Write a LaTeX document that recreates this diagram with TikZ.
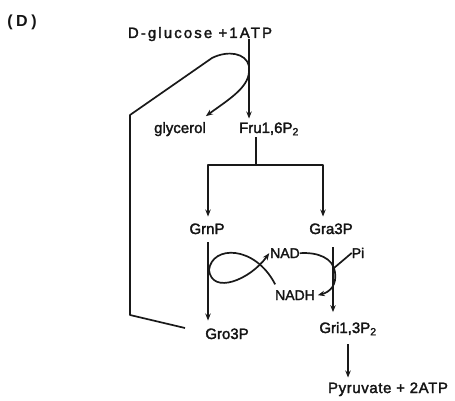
\documentclass[tikz,border=0pt]{standalone}
\usepackage{fontspec}
\setmainfont{Liberation Sans}
\newfontfamily\lblfont{Liberation Sans}[FakeBold=2]
\usetikzlibrary{arrows.meta}
\begin{document}
\begin{tikzpicture}[x=1pt,y=-1pt,
  lbl/.style={inner sep=0pt, outer sep=0pt, anchor=base, text=black!92, font=\lblfont\fontsize{15}{17}\selectfont},
  sml/.style={lbl, font=\lblfont\fontsize{14}{16}\selectfont},
  ln/.style={line width=1.7pt, draw=black!90, line join=round},
  arr/.style={ln, -{Stealth[length=7pt,width=5.5pt]}}]
\useasboundingbox (0,0) rectangle (455,401);
% labels
\node[lbl, font=\fontsize{16}{18}\selectfont\bfseries\addfontfeatures{LetterSpace=22}] (D) at (22,27) {(D)};
\node[lbl, font=\lblfont\fontsize{15}{17}\selectfont\addfontfeatures{LetterSpace=14}] (glc) at (200,38) {D-glucose +1ATP};
\node[lbl] (gly) at (180,133) {glycerol};
\node[lbl] (fru) at (269,133) {Fru1,6P\textsubscript{2}};
\node[lbl] (grn) at (207,234) {GrnP};
\node[lbl] (gra) at (331,234) {Gra3P};
\node[lbl] (gro) at (227,339) {Gro3P};
\node[lbl] (gri) at (348,333) {Gri1,3P\textsubscript{2}};
\node[lbl, font=\lblfont\fontsize{15}{17}\selectfont\addfontfeatures{LetterSpace=4}] (pyr) at (388,393) {Pyruvate + 2ATP};
\node[sml] (nad) at (285,258) {NAD};
\node[sml] (nadh) at (295,300) {NADH};
\node[sml] (pi) at (358,258) {Pi};
% columns and junction points
\coordinate (xm) at (249,0);
\coordinate (xf) at (256,0);
\coordinate (xL) at (208,0);
\coordinate (xR) at (323,0);
\coordinate (xG) at (333,0);
\coordinate (xP) at (348,0);
\coordinate (br) at (256,165);
\coordinate (lp) at (209,270);
\coordinate (pj) at (334,268);
\coordinate (loopend) at (185,328);
% main line glucose -> Fru1,6P2
\draw[arr] ([yshift=-1pt]glc.base -| xm) -- ([yshift=4pt]fru.north -| xm);
% branch to glycerol
\draw[arr] (249,72) .. controls (248,88) and (228,100) .. ([yshift=6pt]gly.north east);
% feedback loop
\draw[ln] (249,66) .. controls (246,53) and (228,50) .. (212,58) -- (130,115) -- (130,315) -- (loopend);
% Fru1,6P2 split
\draw[ln] ([yshift=-2pt]fru.south -| xf) -- (br);
\draw[arr] (br) -| ([yshift=7pt]grn.north -| xL);
\draw[arr] (br) -| ([yshift=7pt]gra.north -| xR);
% lower reactions
\draw[arr] ([yshift=-8pt]grn.south -| xL) -- ([yshift=8pt]gro.north -| xL);
\draw[arr] ([yshift=-13pt]gra.south -| xG) -- ([yshift=10pt]gri.north -| xG);
\draw[arr] ([yshift=-9pt]gri.south -| xP) -- ([yshift=5pt]pyr.north -| xP);
% NADH / NAD coupling at GrnP -> Gro3P
\draw[arr] (lp) .. controls (212,295) and (250,280) .. ([xshift=-1pt]nad.west);
\draw[ln] (lp) .. controls (212,245) and (255,245) .. ([yshift=6pt]nadh.north west);
% NAD / NADH coupling at Gra3P -> Gri1,3P2
\draw[arr] (nad.east) .. controls (318,252) and (333,258) .. (335,272) .. controls (337,285) and (330,292) .. ([xshift=3pt]nadh.east);
\draw[ln] (pi.west) -- (pj);
\end{tikzpicture}
\end{document}
